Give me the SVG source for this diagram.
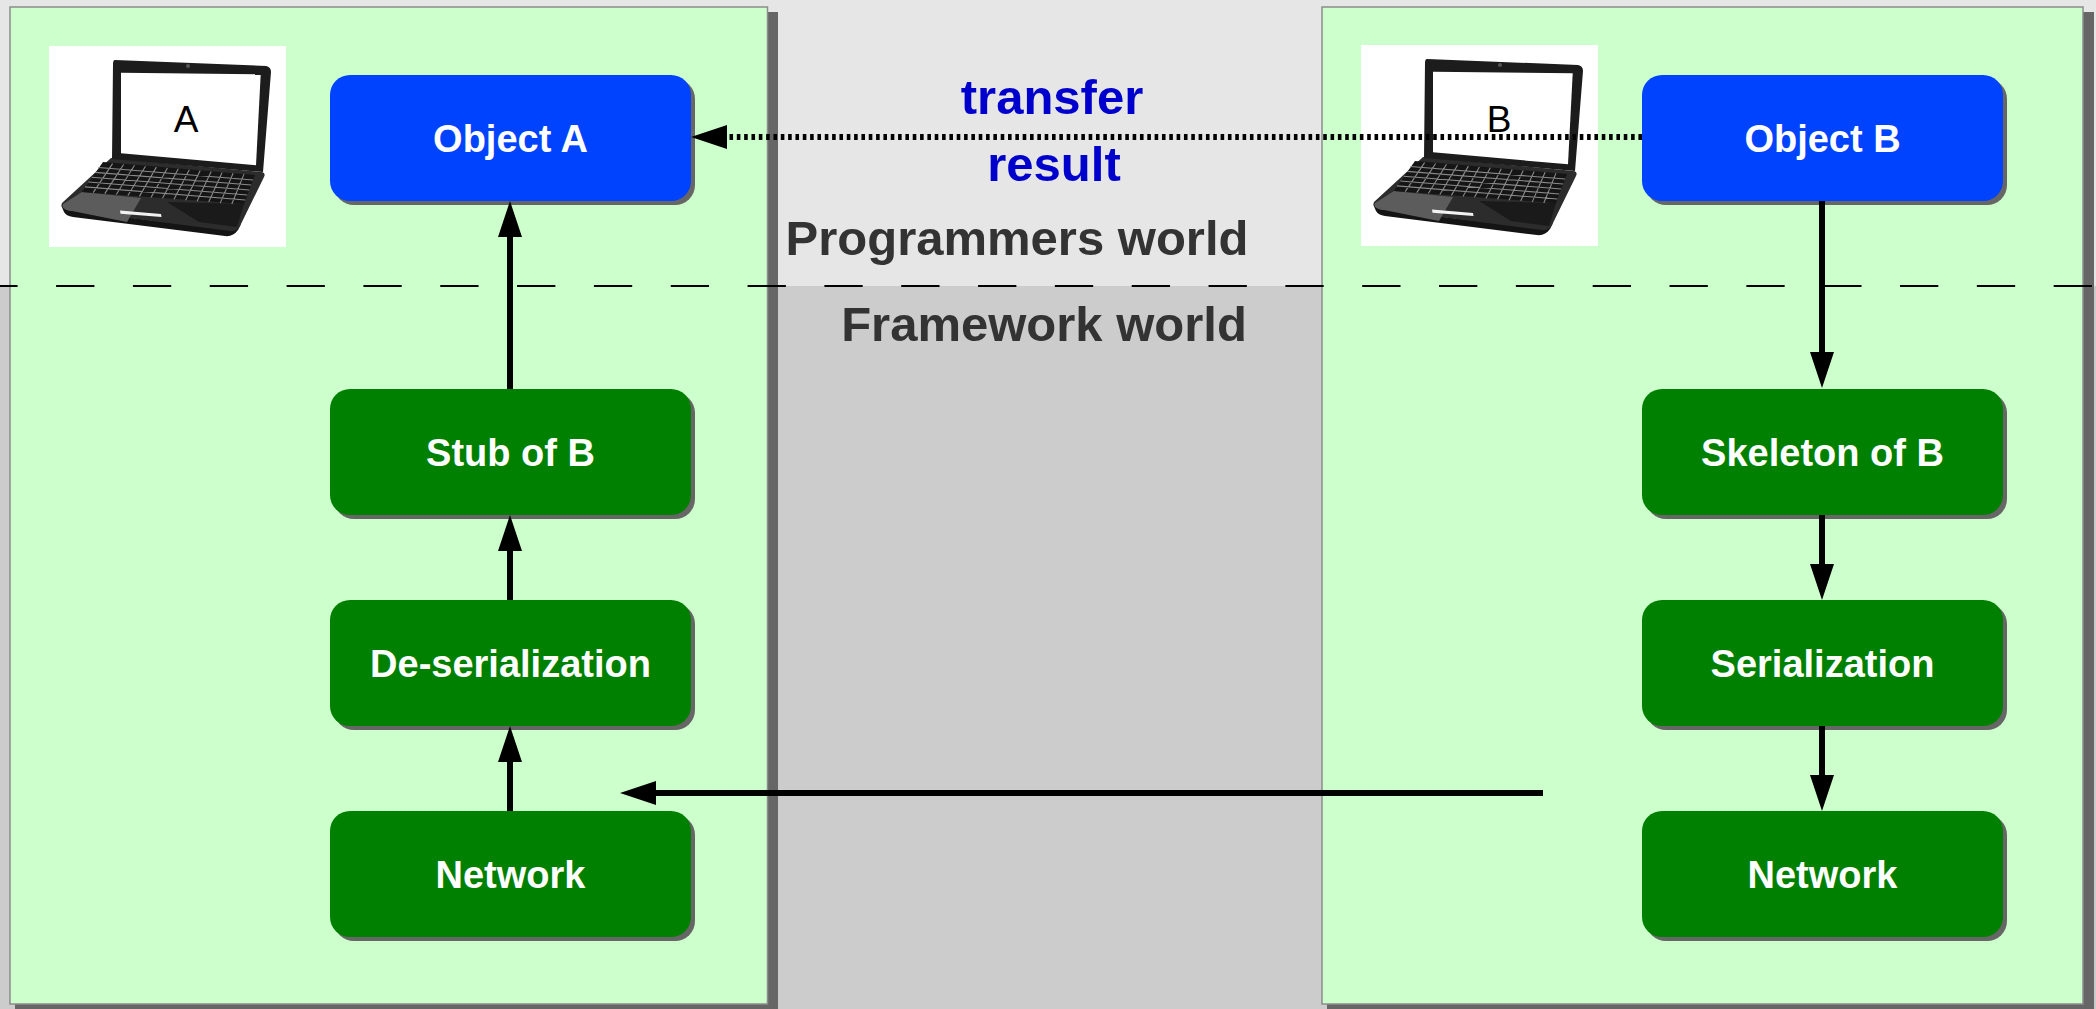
<svg xmlns="http://www.w3.org/2000/svg" width="2096" height="1009" viewBox="0 0 2096 1009">
  <defs>
    <style>
      .panel{fill:#ccffcc;stroke:#8c8c8c;stroke-width:1.5}
      .shadow{fill:#666666}
      .obj{fill:#0043ff}
      .step{fill:#008000}
      .label{font-family:"Liberation Sans",Arial,sans-serif;font-weight:bold;font-size:38px;fill:#ffffff;text-anchor:middle}
      .world{font-family:"Liberation Sans",Arial,sans-serif;font-weight:bold;font-size:49px;fill:#333333;text-anchor:middle}
      .msg{font-family:"Liberation Sans",Arial,sans-serif;font-weight:bold;font-size:49px;fill:#0000cc;text-anchor:middle}
      .screen{font-family:"Liberation Sans",Arial,sans-serif;font-size:37px;fill:#000000;text-anchor:middle}
      .link{stroke:#000000;stroke-width:6;fill:none}
      .dotted{stroke-dasharray:3.6 3.73}
      .sep{stroke:#000000;stroke-width:2;fill:none;stroke-dasharray:38.3 38.53;stroke-dashoffset:20.73}
    </style>
    <marker id="head" markerUnits="userSpaceOnUse" viewBox="0 0 36 24" refX="1" refY="12" markerWidth="36" markerHeight="24" orient="auto">
      <path d="M0,0 L36,12 L0,24 Z" fill="#000000"/>
    </marker>
    <!-- netbook picture, local coordinates of its white frame -->
    <g id="laptop">
      <rect x="0" y="0" width="237" height="201" fill="#ffffff"/>
      <!-- base underside -->
      <path d="M12,159 L15,166 Q17,170 24,171 L176,190 Q184,191 189,184 L192,178 L182,184 L18,164 Z" fill="#141414"/>
      <!-- base deck -->
      <path d="M62,112 L213,126 Q217,127 215,131 L191,180 Q188,186 181,185 L18,164 Q11,162 13,157 Z" fill="#2c2c2c"/>
      <!-- glossy palm rest -->
      <path d="M33,146 L92,152 L78,176 L18,164 Q12,162 14,158 Z" fill="#5c5c5c"/>
      <path d="M118,156 L195,158 L188,181 L150,176 Z" fill="#1a1a1a"/>
      <!-- keyboard -->
      <path d="M54,116 L206,129 L195,158 L33,146 Z" fill="#151515"/>
      <path d="M49.4,121.5 L204.1,134 M46,126.4 L202.1,139 M42.7,131.2 L200.2,144 M39.4,136 L198.2,149 M36,140.9 L196.3,154
               M63.6,117.6 L44.2,146.6 M74.6,118.5 L55.8,147.6 M85.5,119.3 L67.3,148.5 M96.5,120.2 L78.9,149.5 M107.4,121.1 L90.4,150.4
               M118.4,122 L102,151.4 M129.3,122.8 L113.5,152.3 M140.3,123.7 L125,153.3 M151.2,124.6 L136.6,154.2 M162.2,125.5 L148.1,155.2
               M173.1,126.4 L159.7,156.1 M184.1,127.2 L171.2,157.1 M195,128.1 L182.8,158" stroke="#8a8a8a" stroke-width="1.1" fill="none"/>
      <!-- touchpad button -->
      <path d="M71,164.5 L112,168 L112.5,171 L71.5,167.8 Z" fill="#f2f2f2"/>
      <!-- lid -->
      <path d="M66,14 L217,20 Q222,21 222,26 L214,126 L63,113 L64,18 Q64,14 66,14 Z" fill="#1c1c1c"/>
      <path d="M72,26.7 L211.7,28.3 L207,119.3 L72,107.3 Z" fill="#ffffff"/>
      <circle cx="139" cy="20" r="2" fill="#555555"/>
    </g>
  </defs>

  <!-- backdrop: programmers world above, framework world below -->
  <rect x="0" y="0" width="2096" height="286" fill="#e6e6e6"/>
  <rect x="0" y="286" width="2096" height="723" fill="#cccccc"/>

  <!-- host A -->
  <g id="host-a">
    <rect class="shadow" x="15" y="12" width="763" height="1000"/>
    <rect class="panel" x="10" y="7" width="757.5" height="997"/>
    <use href="#laptop" transform="translate(49,46)"/>
    <text class="screen" x="186" y="132">A</text>
  </g>

  <!-- host B -->
  <g id="host-b">
    <rect class="shadow" x="1327" y="12" width="767" height="1000"/>
    <rect class="panel" x="1322" y="7" width="761" height="997"/>
    <use href="#laptop" transform="translate(1361,45)"/>
    <text class="screen" x="1499" y="132">B</text>
  </g>

  <!-- nodes on host A -->
  <g id="object-a">
    <rect class="shadow" x="334" y="79" width="361" height="126" rx="20"/>
    <rect class="obj" x="330" y="75" width="361" height="126" rx="20"/>
    <text class="label" x="510.5" y="152">Object A</text>
  </g>
  <g id="stub-of-b">
    <rect class="shadow" x="334" y="393" width="361" height="126" rx="20"/>
    <rect class="step" x="330" y="389" width="361" height="126" rx="20"/>
    <text class="label" x="510.5" y="466">Stub of B</text>
  </g>
  <g id="de-serialization">
    <rect class="shadow" x="334" y="604" width="361" height="126" rx="20"/>
    <rect class="step" x="330" y="600" width="361" height="126" rx="20"/>
    <text class="label" x="510.5" y="677">De-serialization</text>
  </g>
  <g id="network-a">
    <rect class="shadow" x="334" y="815" width="361" height="126" rx="20"/>
    <rect class="step" x="330" y="811" width="361" height="126" rx="20"/>
    <text class="label" x="510.5" y="888">Network</text>
  </g>

  <!-- nodes on host B -->
  <g id="object-b">
    <rect class="shadow" x="1646" y="79" width="361" height="126" rx="20"/>
    <rect class="obj" x="1642" y="75" width="361" height="126" rx="20"/>
    <text class="label" x="1822.5" y="152">Object B</text>
  </g>
  <g id="skeleton-of-b">
    <rect class="shadow" x="1646" y="393" width="361" height="126" rx="20"/>
    <rect class="step" x="1642" y="389" width="361" height="126" rx="20"/>
    <text class="label" x="1822.5" y="466">Skeleton of B</text>
  </g>
  <g id="serialization">
    <rect class="shadow" x="1646" y="604" width="361" height="126" rx="20"/>
    <rect class="step" x="1642" y="600" width="361" height="126" rx="20"/>
    <text class="label" x="1822.5" y="677">Serialization</text>
  </g>
  <g id="network-b">
    <rect class="shadow" x="1646" y="815" width="361" height="126" rx="20"/>
    <rect class="step" x="1642" y="811" width="361" height="126" rx="20"/>
    <text class="label" x="1822.5" y="888">Network</text>
  </g>

  <!-- connectors -->
  <g id="connectors">
    <line class="link" x1="510" y1="389" x2="510" y2="236" marker-end="url(#head)"/>
    <line class="link" x1="510" y1="600" x2="510" y2="550" marker-end="url(#head)"/>
    <line class="link" x1="510" y1="811" x2="510" y2="761" marker-end="url(#head)"/>
    <line class="link" x1="1822" y1="201" x2="1822" y2="353" marker-end="url(#head)"/>
    <line class="link" x1="1822" y1="515" x2="1822" y2="565" marker-end="url(#head)"/>
    <line class="link" x1="1822" y1="726" x2="1822" y2="776" marker-end="url(#head)"/>
    <line class="link" x1="1543" y1="793" x2="655" y2="793" marker-end="url(#head)"/>
    <line class="link dotted" x1="1642" y1="137" x2="726" y2="137" marker-end="url(#head)"/>
  </g>

  <!-- boundary between the two worlds -->
  <line class="sep" x1="0" y1="286" x2="2096" y2="286"/>

  <text class="msg" x="1052" y="114">transfer</text>
  <text class="msg" x="1054" y="181">result</text>
  <text class="world" x="1017" y="255">Programmers world</text>
  <text class="world" x="1044" y="341">Framework world</text>
</svg>
